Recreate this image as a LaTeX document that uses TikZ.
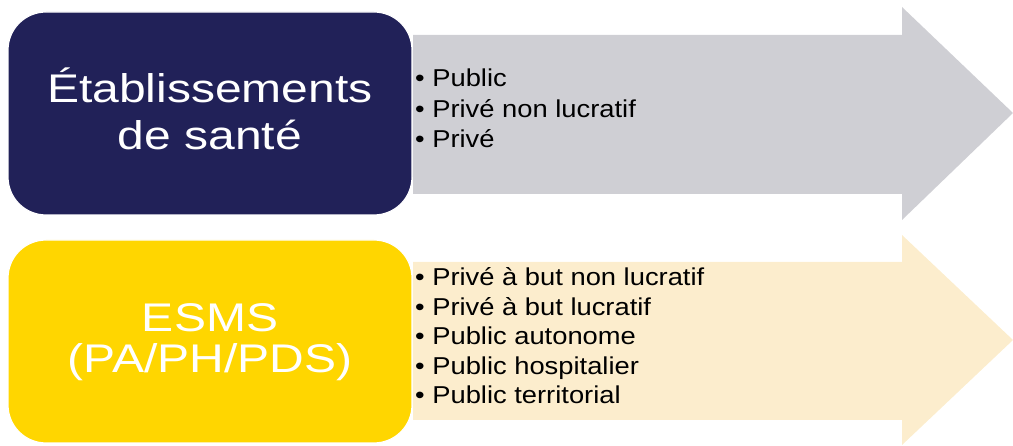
\documentclass[tikz,border=0pt]{standalone}
\usepackage{fontspec}
\setmainfont{Liberation Sans}
\newfontfamily\bigfont[FakeStretch=1.2]{Liberation Sans}
\newfontfamily\listfont[FakeStretch=1.12]{Liberation Sans}
\definecolor{navy}{RGB}{33,33,88}
\definecolor{arrowgray}{RGB}{207,207,212}
\definecolor{gold}{RGB}{255,214,0}
\definecolor{cream}{RGB}{252,237,205}
\tikzset{
  titlebox/.style={rectangle, rounded corners=38pt, draw=white, line width=1.2pt,
    minimum width=404pt, minimum height=203pt, inner sep=0pt},
  bigtext/.style={text=white, anchor=base, inner sep=0pt, font=\bigfont\fontsize{40}{47}\selectfont},
  itemtext/.style={text=black, anchor=base west, inner sep=0pt, font=\listfont\fontsize{24.4}{30}\selectfont},
}
\begin{document}
\begin{tikzpicture}[x=1pt,y=-1pt]
\useasboundingbox (0,0) rectangle (1013,446);
% top arrow
\fill[arrowgray] (413,35) -- (902,35) -- (902,7) -- (1013,113) -- (902,220) -- (902,194) -- (413,194) -- cycle;
% bottom arrow
\fill[cream] (413,262) -- (902,262) -- (902,235) -- (1013,340) -- (902,445) -- (902,420) -- (413,420) -- cycle;
% boxes
\node[titlebox, fill=navy] (box1) at (210,113.5) {};
\node[titlebox, fill=gold] (box2) at (210,341.5) {};
% titles
\node[bigtext] (t1a) at (210,103) {Établissements};
\node[bigtext] (t1b) at (210,150) {de santé};
\node[bigtext] (t2a) at (210,332) {ESMS};
\node[bigtext] (t2b) at (210,373) {(PA/PH/PDS)};
% top list
\node[itemtext] (a1) at (415,87) {• Public};
\node[itemtext] (a2) at (415,118) {• Privé non lucratif};
\node[itemtext] (a3) at (415,148) {• Privé};
% bottom list
\node[itemtext] (b1) at (415,286) {• Privé à but non lucratif};
\node[itemtext] (b2) at (415,315.5) {• Privé à but lucratif};
\node[itemtext] (b3) at (415,345) {• Public autonome};
\node[itemtext] (b4) at (415,374.5) {• Public hospitalier};
\node[itemtext] (b5) at (415,404) {• Public territorial};
\end{tikzpicture}
\end{document}
